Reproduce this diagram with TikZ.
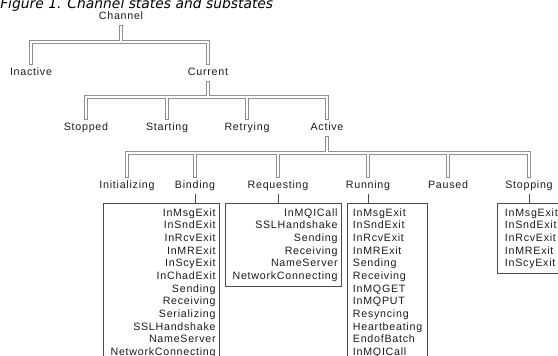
\documentclass[tikz,border=0pt]{standalone}
\usepackage{fontspec}
\usepackage{tikz}
\usetikzlibrary{positioning, calc, backgrounds}
\newfontfamily\statefont{Liberation Sans}[LetterSpace=7]
\newfontfamily\figtitlefont{DejaVu Sans}
\definecolor{busGray}{HTML}{8E8E8E}
\definecolor{boxGray}{HTML}{4A4A4A}
\definecolor{labelInk}{HTML}{1A1A1A}
% a bus is drawn twice: grey outline underneath, white core on top
\newcommand{\bus}[1]{%
  \begin{scope}[on background layer]\draw[busout] #1;\end{scope}%
  \draw[busin] #1;}

\begin{document}
\begin{tikzpicture}[
            x=0.75pt, y=-0.75pt,
            state/.style ={font=\statefont\fontsize{8}{9.5}\selectfont, text=labelInk,
                    inner sep=2pt, text height=5.5pt, text depth=1.5pt},
            % substate lists: framed, one entry per line
            list/.style  ={draw=boxGray, line width=0.9pt, anchor=north west,
                    font=\statefont\fontsize{8}{9.5}\selectfont, text=labelInk,
                    inner xsep=3pt, inner ysep=3.6pt},
            wide/.style  ={list, text width=81pt, align=right},
            narrow/.style={list, inner xsep=4pt, text width=52pt, align=left},
            busout/.style={draw=busGray, line width=3pt, line join=miter},
            busin/.style ={draw=white, line width=1.5pt, line join=miter,
                    shorten <=0.75pt, shorten >=0.75pt},
            tick/.style  ={draw=boxGray, line width=0.7pt}
        ]
        \useasboundingbox (0,0) rectangle (558,356);

        \node[font=\figtitlefont\itshape\fontsize{10.4}{12}\selectfont, anchor=base west, inner sep=0pt]
              (caption) at (0,9) {Figure 1. Channel states and substates};

        \node[state] (channel)      at (121,17)  {Channel};
        \node[state] (inactive)     at (31,73)   {Inactive};
        \node[state] (current)      at (208,73)  {Current};
        \node[state] (stopped)      at (86,128)  {Stopped};
        \node[state] (starting)     at (167,128) {Starting};
        \node[state] (retrying)     at (247,128) {Retrying};
        \node[state] (active)       at (327,128) {Active};
        \node[state] (initializing) at (127,186) {Initializing};
        \node[state] (binding)      at (195,186) {Binding};
        \node[state] (requesting)   at (278,186) {Requesting};
        \node[state] (running)      at (368,186) {Running};
        \node[state] (paused)       at (448,186) {Paused};
        \node[state] (stopping)     at (529,186) {Stopping};

        \coordinate (chanbus) at (121,42);
        \coordinate (currbus) at (208,97);
        \coordinate (actbus)  at (327,153);

        \node[wide] (bindlist) at (103,203)
              {InMsgExit\\ InSndExit\\ InRcvExit\\ InMRExit\\ InScyExit\\ InChadExit\\
               Sending\\ Receiving\\ Serializing\\ SSLHandshake\\ NameServer\\ NetworkConnecting};
        \node[wide] (reqlist) at (225,203)
              {InMQICall\\ SSLHandshake\\ Sending\\ Receiving\\ NameServer\\ NetworkConnecting};
        \node[narrow] (runlist) at (347,203)
              {InMsgExit\\ InSndExit\\ InRcvExit\\ InMRExit\\ Sending\\ Receiving\\
               InMQGET\\ InMQPUT\\ Resyncing\\ Heartbeating\\ EndofBatch\\ InMQICall};
        % this box runs past the right edge of the figure
        \node[narrow, inner xsep=5.5pt] (stoplist) at (497,203)
              {InMsgExit\\ InSndExit\\ InRcvExit\\ InMRExit\\ InScyExit};

        % Channel -> Inactive / Current
        \bus{(channel.south) -- (channel.south |- chanbus)}
        \bus{(inactive.north) -- (inactive.north |- chanbus) -- (current.north |- chanbus) -- (current.north)}
        % Current -> Stopped ... Active
        \bus{(current.south) -- (current.south |- currbus)}
        \bus{(stopped.north) -- (stopped.north |- currbus) -- (active.north |- currbus) -- (active.north)}
        \bus{(starting.north |- currbus) -- (starting.north)}
        \bus{(retrying.north |- currbus) -- (retrying.north)}
        % Active -> its substates
        \bus{(active.south) -- (active.south |- actbus)}
        \bus{(initializing.north) -- (initializing.north |- actbus) -- (stopping.north |- actbus) -- (stopping.north)}
        \bus{(binding.north |- actbus) -- (binding.north)}
        \bus{(requesting.north |- actbus) -- (requesting.north)}
        \bus{(running.north |- actbus) -- (running.north)}
        \bus{(paused.north |- actbus) -- (paused.north)}

        \draw[tick] (binding.south)    -- (binding.south |- bindlist.north);
        \draw[tick] (requesting.south) -- (requesting.south |- reqlist.north);
        \draw[tick] (running.south)    -- (running.south |- runlist.north);
        \draw[tick] (stopping.south)   -- (stopping.south |- stoplist.north);

    \end{tikzpicture}
\end{document}
